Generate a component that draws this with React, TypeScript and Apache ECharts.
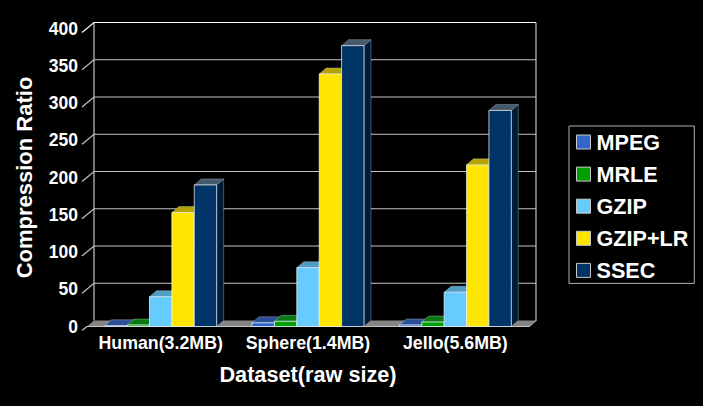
import React, { useEffect, useRef } from "react";
import * as echarts from "echarts";

const categories = ["Human(3.2MB)", "Sphere(1.4MB)", "Jello(5.6MB)"];
const yTicks = [0, 50, 100, 150, 200, 250, 300, 350, 400];
const seriesNames = ["MPEG", "MRLE", "GZIP", "GZIP+LR", "SSEC"];
const mpeg = [1, 5, 2];
const mrle = [2, 7, 6];
const gzip = [40, 79, 46];
const gzipLr = [153, 339, 217];
const ssec = [190, 377, 290];
const seriesValues = [mpeg, mrle, gzip, gzipLr, ssec];
const frontColors = ["#3366cc", "#00a000", "#66ccff", "#ffe600", "#003366"];
const topColors = ["#2a4f94", "#0b7a12", "#4f9fc4", "#b5a400", "#46586c"];
const sideColors = ["#1d3768", "#07560c", "#3a7896", "#8a7d00", "#001c38"];

const DX = 7;
const DY = -6;
const WALL = "#c4c4c4";

const wallItem = (params: any, api: any) => {
  const cs = params.coordSys;
  const y = api.coord([0, api.value(1)])[1];
  const left = cs.x;
  const right = cs.x + cs.width;
  const bottom = cs.y + cs.height;
  const value = api.value(1);
  const style = { stroke: value === 400 ? "#ffffff" : WALL, lineWidth: 1.2, fill: "none" };
  const children: any[] = [
    {
      type: "polyline",
      shape: {
        points:
          value === 0
            ? [[left - 5, y + 4], [left, y]]
            : [[left - 5, y + 4], [left + DX, y + DY], [right + DX, y + DY]],
      },
      style,
    },
  ];
  if (value === 0) {
    children.push(
      {
        type: "line",
        shape: { x1: left + DX, y1: cs.y + DY, x2: left + DX, y2: bottom + DY },
        style: { stroke: WALL, lineWidth: 1.2 },
      },
      {
        type: "polyline",
        shape: { points: [[right, bottom], [right + DX, bottom + DY], [right + DX, cs.y + DY]] },
        style: { stroke: WALL, lineWidth: 1.2, fill: "none" },
      },
      {
        type: "polygon",
        shape: { points: [[left, bottom], [left + DX, bottom + DY], [right + DX, bottom + DY], [right, bottom]] },
        style: { fill: "#858585" },
      }
    );
  }
  return { type: "group", children };
};

const barItem = (index: number) => (_params: any, api: any) => {
  const width = api.size([1, 0])[0] * 0.152;
  const base = api.coord([api.value(0), 0]);
  const top = api.coord([api.value(0), api.value(1)]);
  const x0 = base[0] + (index - 2.5) * width;
  const x1 = x0 + width;
  const y0 = base[1];
  const y1 = top[1];
  const edge = "rgba(235,240,245,0.75)";
  return {
    type: "group",
    children: [
      {
        type: "polygon",
        shape: { points: [[x1, y0], [x1 + DX, y0 + DY], [x1 + DX, y1 + DY], [x1, y1]] },
        style: { fill: sideColors[index], stroke: "rgba(200,210,220,0.45)", lineWidth: 0.8 },
      },
      {
        type: "polygon",
        shape: { points: [[x0, y1], [x0 + DX, y1 + DY], [x1 + DX, y1 + DY], [x1, y1]] },
        style: { fill: topColors[index], stroke: "rgba(200,210,220,0.45)", lineWidth: 0.8 },
      },
      {
        type: "rect",
        shape: { x: x0, y: y1, width, height: y0 - y1 },
        style: { fill: frontColors[index], stroke: edge, lineWidth: 1 },
      },
    ],
  };
};

export default function App() {
  const ref = useRef<HTMLDivElement>(null);
  useEffect(() => {
    document.body.style.margin = "0";
    document.body.style.background = "#000";
    const chart = echarts.init(ref.current!, undefined, { renderer: "svg" });
    const font = "Liberation Sans";
    chart.setOption({
      animation: false,
      backgroundColor: "#000000",
      textStyle: { fontFamily: font },
      grid: { left: 87, top: 28.5, width: 442, height: 298 },
      xAxis: {
        type: "category",
        data: categories,
        name: "Dataset(raw size)",
        nameLocation: "middle",
        nameGap: 37,
        nameTextStyle: { color: "#fff", fontSize: 21.7, fontWeight: "bold", fontFamily: font },
        axisLine: { lineStyle: { color: "#ffffff", width: 1.2 } },
        axisTick: { length: 5, lineStyle: { color: WALL } },
        axisLabel: { color: "#fff", fontSize: 17.8, fontWeight: "bold", fontFamily: font, margin: 7, interval: 0 },
        splitLine: { show: false },
      },
      yAxis: {
        type: "value",
        min: 0,
        max: 400,
        interval: 50,
        name: "Compression Ratio",
        nameLocation: "middle",
        nameGap: 52,
        nameTextStyle: { color: "#fff", fontSize: 22, fontWeight: "bold", fontFamily: font },
        axisLine: { show: false },
        axisTick: { show: false },
        axisLabel: { color: "#fff", fontSize: 17.5, fontWeight: "bold", fontFamily: font, margin: 9 },
        splitLine: { show: false },
      },
      legend: {
        orient: "vertical",
        left: 569,
        top: 126,
        padding: [5, 6, 2, 7],
        borderColor: "#b0b0b0",
        borderWidth: 1,
        itemWidth: 14,
        itemHeight: 14,
        itemGap: 10.1,
        icon: "rect",
        data: seriesNames,
        textStyle: { color: "#fff", fontSize: 21.6, lineHeight: 20, fontWeight: "bold", fontFamily: font, padding: [0, 0, 0, 1] },
        itemStyle: { borderColor: "#c8c8c8", borderWidth: 1 },
      },
      series: [
        {
          type: "custom",
          name: "walls",
          renderItem: wallItem,
          data: yTicks.map((t) => [0, t]),
          encode: { x: 0, y: 1 },
          z: 1,
          silent: true,
        },
        ...seriesNames.map((name, i) => ({
          type: "custom",
          name,
          renderItem: barItem(i),
          data: seriesValues[i].map((v, c) => [c, v]),
          encode: { x: 0, y: 1 },
          itemStyle: { color: frontColors[i] },
          z: 2 + i,
        })),
      ],
    });
    return () => chart.dispose();
  }, []);
  return <div ref={ref} style={{ position: "absolute", left: 0, top: 0, width: 703, height: 406, background: "#000" }} />;
}
